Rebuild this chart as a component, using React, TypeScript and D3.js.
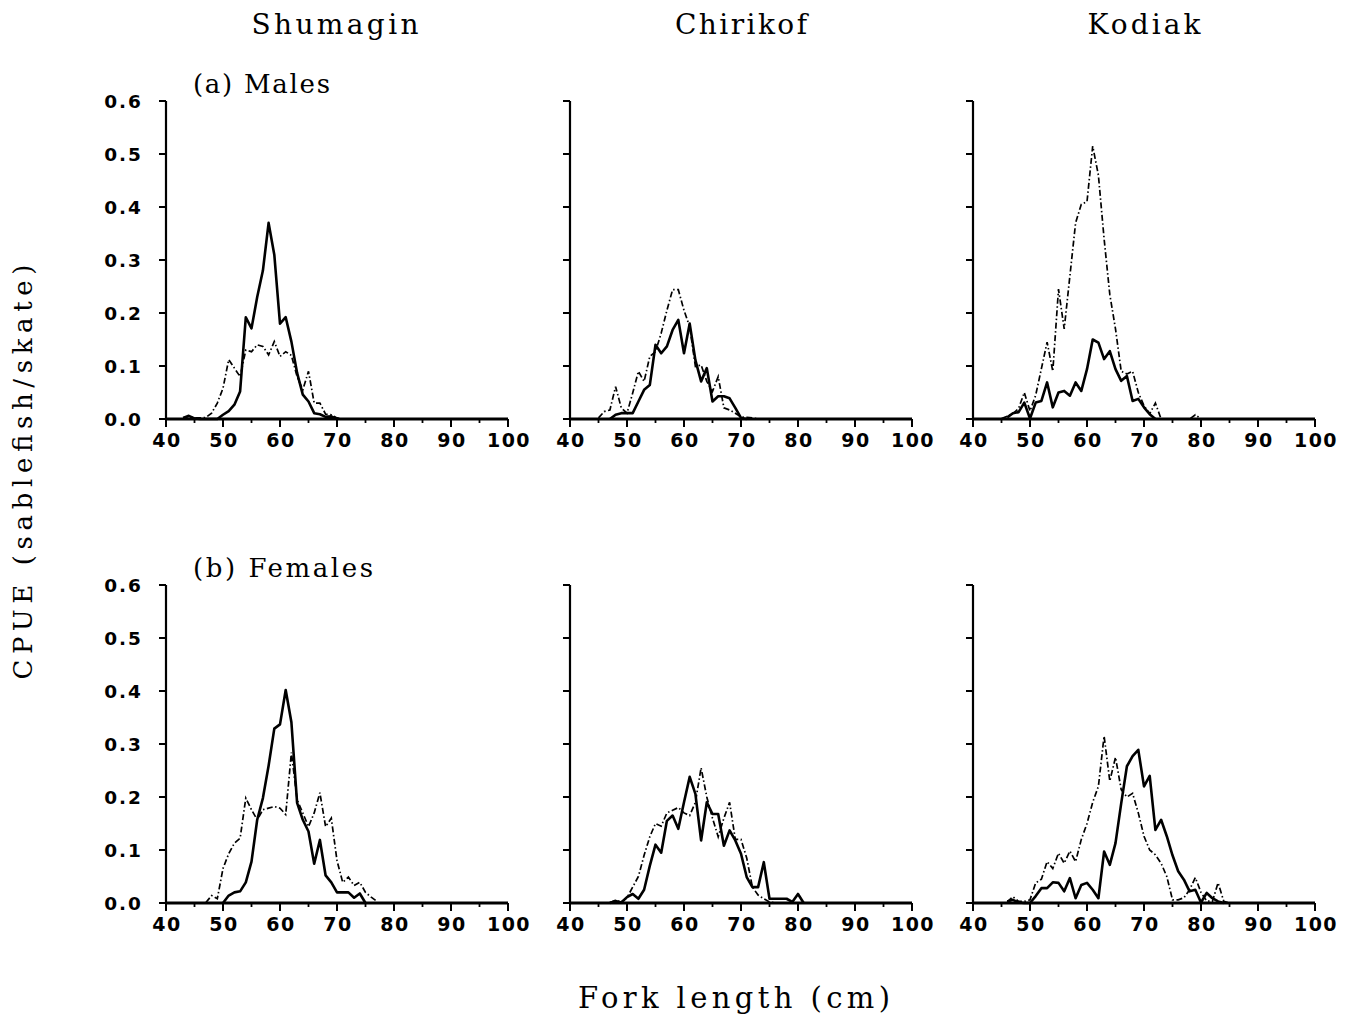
import React from "react";
import * as d3 from "d3";

// ---- categories / ticks ----
const AREAS = ["Shumagin", "Chirikof", "Kodiak"];
const SEXES = ["(a) Males", "(b) Females"];
const LENGTH_TICKS = [40, 50, 60, 70, 80, 90, 100];
const LENGTH_MINOR = [45, 55, 65, 75, 85, 95];
const CPUE_TICKS = [0, 0.1, 0.2, 0.3, 0.4, 0.5, 0.6];
const CPUE_LABELS = ["0.0", "0.1", "0.2", "0.3", "0.4", "0.5", "0.6"];

// ---- series values (CPUE by 1-cm fork length, first value at *_start) ----
// Shumagin males
const shuMaleSolidStart = 43;
const shuMaleSolid = [0.002, 0.006, 0.001, 0, 0, 0, 0, 0.008, 0.015, 0.027, 0.052, 0.192, 0.171, 0.23, 0.28, 0.37, 0.31, 0.18, 0.192, 0.146, 0.087, 0.046, 0.033, 0.011, 0.009, 0.004, 0.005, 0];
const shuMaleDashStart = 43;
const shuMaleDash = [0.002, 0.005, 0.002, 0.002, 0.003, 0.011, 0.03, 0.058, 0.112, 0.096, 0.08, 0.13, 0.127, 0.14, 0.137, 0.121, 0.146, 0.118, 0.127, 0.12, 0.08, 0.055, 0.09, 0.03, 0.03, 0.009, 0.008, 0.002, 0];
// Chirikof males
const chiMaleSolidStart = 47;
const chiMaleSolid = [0, 0.008, 0.011, 0.011, 0.011, 0.033, 0.055, 0.064, 0.14, 0.124, 0.137, 0.168, 0.187, 0.124, 0.18, 0.111, 0.071, 0.096, 0.033, 0.043, 0.043, 0.039, 0.021, 0.002, 0];
const chiMaleDashStart = 45;
const chiMaleDash = [0.002, 0.014, 0.017, 0.061, 0.021, 0.011, 0.049, 0.09, 0.071, 0.118, 0.127, 0.162, 0.205, 0.244, 0.244, 0.205, 0.174, 0.099, 0.102, 0.071, 0.052, 0.08, 0.021, 0.017, 0.011, 0.004, 0.003, 0.002, 0];
// Kodiak males
const kodMaleSolidStart = 46;
const kodMaleSolid = [0.003, 0.011, 0.013, 0.031, 0.001, 0.031, 0.034, 0.069, 0.022, 0.05, 0.053, 0.044, 0.069, 0.053, 0.094, 0.15, 0.144, 0.113, 0.128, 0.094, 0.072, 0.081, 0.034, 0.038, 0.022, 0.009, 0];
const kodMaleDashStart = 45;
const kodMaleDash = [0.001, 0.005, 0.01, 0.02, 0.05, 0.015, 0.045, 0.095, 0.145, 0.09, 0.245, 0.17, 0.27, 0.37, 0.405, 0.41, 0.515, 0.46, 0.34, 0.235, 0.17, 0.09, 0.085, 0.09, 0.05, 0.025, 0.01, 0.03, 0, 0, 0, 0, 0, 0, 0.008, 0];
// Shumagin females
const shuFemSolidStart = 50;
const shuFemSolid = [0, 0.014, 0.02, 0.022, 0.039, 0.078, 0.157, 0.198, 0.259, 0.329, 0.337, 0.402, 0.341, 0.189, 0.157, 0.135, 0.074, 0.119, 0.052, 0.039, 0.02, 0.02, 0.02, 0.01, 0.018, 0];
const shuFemDashStart = 47;
const shuFemDash = [0.001, 0.014, 0.008, 0.065, 0.093, 0.113, 0.122, 0.198, 0.176, 0.157, 0.176, 0.179, 0.182, 0.179, 0.167, 0.284, 0.195, 0.17, 0.144, 0.17, 0.208, 0.144, 0.16, 0.08, 0.039, 0.049, 0.033, 0.039, 0.02, 0.011, 0.003];
// Chirikof females
const chiFemSolidStart = 47;
const chiFemSolid = [0, 0.004, 0.001, 0.011, 0.017, 0.008, 0.025, 0.07, 0.11, 0.095, 0.155, 0.165, 0.14, 0.19, 0.238, 0.206, 0.118, 0.19, 0.168, 0.168, 0.108, 0.137, 0.118, 0.093, 0.049, 0.03, 0.03, 0.077, 0.008, 0.008, 0.008, 0.008, 0.002, 0.017, 0];
const chiFemDashStart = 47;
const chiFemDash = [0.001, 0.005, 0.002, 0.01, 0.03, 0.05, 0.09, 0.125, 0.15, 0.145, 0.17, 0.175, 0.18, 0.17, 0.165, 0.19, 0.255, 0.2, 0.16, 0.125, 0.16, 0.19, 0.12, 0.12, 0.085, 0.03, 0.015, 0.008, 0.002, 0];
// Kodiak females
const kodFemSolidStart = 46;
const kodFemSolid = [0.003, 0.006, 0.001, 0, 0, 0.013, 0.028, 0.028, 0.039, 0.038, 0.022, 0.047, 0.009, 0.034, 0.038, 0.025, 0.009, 0.097, 0.072, 0.113, 0.188, 0.258, 0.277, 0.289, 0.22, 0.24, 0.138, 0.157, 0.126, 0.09, 0.06, 0.044, 0.022, 0.025, 0.001, 0.019, 0.009, 0.003, 0];
const kodFemDashStart = 46;
const kodFemDash = [0.002, 0.012, 0.003, 0.003, 0.006, 0.038, 0.045, 0.078, 0.065, 0.094, 0.075, 0.098, 0.078, 0.12, 0.15, 0.19, 0.22, 0.315, 0.23, 0.275, 0.214, 0.2, 0.207, 0.17, 0.126, 0.1, 0.091, 0.075, 0.05, 0.006, 0.006, 0.01, 0.025, 0.048, 0.02, 0.004, 0.003, 0.038, 0.003, 0];

type Series = { start: number; values: number[] };
const toPoints = (s: Series) => s.values.map((v, i) => [s.start + i, v] as [number, number]);

const PANELS = [
  { row: 0, col: 0, solid: { start: shuMaleSolidStart, values: shuMaleSolid }, dash: { start: shuMaleDashStart, values: shuMaleDash } },
  { row: 0, col: 1, solid: { start: chiMaleSolidStart, values: chiMaleSolid }, dash: { start: chiMaleDashStart, values: chiMaleDash } },
  { row: 0, col: 2, solid: { start: kodMaleSolidStart, values: kodMaleSolid }, dash: { start: kodMaleDashStart, values: kodMaleDash } },
  { row: 1, col: 0, solid: { start: shuFemSolidStart, values: shuFemSolid }, dash: { start: shuFemDashStart, values: shuFemDash } },
  { row: 1, col: 1, solid: { start: chiFemSolidStart, values: chiFemSolid }, dash: { start: chiFemDashStart, values: chiFemDash } },
  { row: 1, col: 2, solid: { start: kodFemSolidStart, values: kodFemSolid }, dash: { start: kodFemDashStart, values: kodFemDash } },
];

// ---- layout ----
const COL_X = [166, 570, 973];
const ROW_Y = [101, 585];
const PW = 342;
const PH = 318;
const SERIF = "'DejaVu Serif', serif";
const SANS = "'DejaVu Sans', sans-serif";

function Panel({ p }: { p: (typeof PANELS)[number] }) {
  const x = d3.scaleLinear().domain([40, 100]).range([0, PW]);
  const y = d3.scaleLinear().domain([0, 0.6]).range([PH, 0]);
  const line = d3
    .line<[number, number]>()
    .x((d) => x(d[0]))
    .y((d) => y(d[1]));
  const tx = COL_X[p.col];
  const ty = ROW_Y[p.row];
  return (
    <g transform={`translate(${tx},${ty})`}>
      {/* data */}
      <path d={line(toPoints(p.dash)) || ""} fill="none" stroke="#000" strokeWidth={1.7} strokeDasharray="6 2.5 1.5 2.5" />
      <path d={line(toPoints(p.solid)) || ""} fill="none" stroke="#000" strokeWidth={2.6} strokeLinejoin="round" />
      {/* y axis */}
      <line x1={0} x2={0} y1={y(0)} y2={y(0.6)} stroke="#000" strokeWidth={2.2} />
      {CPUE_TICKS.map((t, i) => (
        <g key={t}>
          <line x1={-7} x2={0} y1={y(t)} y2={y(t)} stroke="#000" strokeWidth={2} />
          {p.col === 0 && (
            <text x={-23} y={y(t)} dy="0.36em" textAnchor="end" fontFamily={SANS} fontWeight="bold" fontSize={18.5} letterSpacing={2}>
              {CPUE_LABELS[i]}
            </text>
          )}
        </g>
      ))}
      {/* x axis */}
      <line x1={0} x2={PW} y1={y(0)} y2={y(0)} stroke="#000" strokeWidth={3} />
      {LENGTH_TICKS.map((t) => (
        <g key={t}>
          <line x1={x(t)} x2={x(t)} y1={y(0)} y2={y(0) + 8} stroke="#000" strokeWidth={2} />
          <text x={x(t) + 1} y={y(0) + 28} textAnchor="middle" fontFamily={SANS} fontWeight="bold" fontSize={19} letterSpacing={1.5}>
            {t}
          </text>
        </g>
      ))}
      {LENGTH_MINOR.map((t) => (
        <line key={t} x1={x(t)} x2={x(t)} y1={y(0)} y2={y(0) + 4} stroke="#000" strokeWidth={1.8} />
      ))}
    </g>
  );
}

const TITLE_LEN = [167, 132, 113];
const SEX_LEN = [137, 180];

export default function App() {
  return (
    <svg width={1352} height={1016} style={{ position: "absolute", left: 0, top: 0, background: "#fff" }}>
      <rect width={1352} height={1016} fill="#fff" />
      {AREAS.map((a, i) => (
        <text key={a} x={COL_X[i] + PW / 2 - (i === 0 ? 2 : 0)} y={34} textAnchor="middle" fontFamily={SERIF} fontSize={28} textLength={TITLE_LEN[i]} lengthAdjust="spacing">
          {a}
        </text>
      ))}
      {SEXES.map((s, i) => (
        <text key={s} x={193} y={ROW_Y[i] - 8} fontFamily={SERIF} fontSize={26} textLength={SEX_LEN[i]} lengthAdjust="spacing">
          {s}
        </text>
      ))}
      {PANELS.map((p, i) => (
        <Panel key={i} p={p} />
      ))}
      <text transform="translate(32,472) rotate(-90)" textAnchor="middle" fontFamily={SERIF} fontSize={26} textLength={415} lengthAdjust="spacing">
        CPUE (sablefish/skate)
      </text>
      <text x={734} y={1008} textAnchor="middle" fontFamily={SERIF} fontSize={29} textLength={312} lengthAdjust="spacing">
        Fork length (cm)
      </text>
    </svg>
  );
}
